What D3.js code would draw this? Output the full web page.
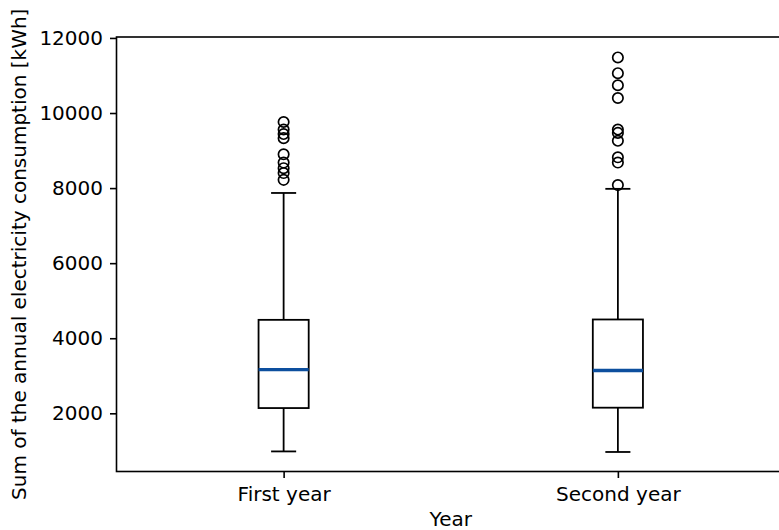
<!DOCTYPE html>
<html>
<head>
<meta charset="utf-8">
<script src="https://cdn.jsdelivr.net/npm/d3@7"></script>
<style>
  body { margin: 0; background: #fff; }
  svg text { font-family: 'DejaVu Sans', sans-serif; }
</style>
</head>
<body>
<svg width="779" height="530"></svg>
<script>
const categories = ['First year', 'Second year'];
const whiskerLow = [985, 970];
const quartile1 = [2140, 2150];
const medians = [3165, 3140];
const quartile3 = [4490, 4500];
const whiskerHigh = [7870, 7980];
const fliers = [
  [9760, 9560, 9440, 9330, 8900, 8680, 8530, 8400, 8220],
  [11480, 11060, 10740, 10400, 9560, 9470, 9260, 8820, 8680, 8080]
];
const yTicks = [2000, 4000, 6000, 8000, 10000, 12000];

const svg = d3.select('svg');
const margin = { left: 116.5, top: 37, right: 785, bottom: 471.5 };
const fontSize = '20px';

const x = d3.scalePoint()
  .domain(categories)
  .range([margin.left, margin.right])
  .padding(0.5);

const y = d3.scaleLinear()
  .domain([450, 12025])
  .range([margin.bottom, margin.top]);

const boxW = x.step() * 0.15;
const capW = boxW / 2;

// ---- Eixos
svg.append('g')
  .attr('transform', `translate(${margin.left},0)`)
  .call(d3.axisLeft(y).tickValues(yTicks).tickSize(6.5).tickPadding(7).tickFormat(d3.format('d')))
  .call(g => g.select('.domain').remove())
  .call(g => g.selectAll('line').attr('stroke-width', 1.6))
  .call(g => g.selectAll('text').style('font-size', fontSize).attr('fill', '#000'));

svg.append('g')
  .attr('transform', `translate(0,${margin.bottom})`)
  .call(d3.axisBottom(x).tickSize(6.5).tickPadding(9))
  .call(g => g.select('.domain').remove())
  .call(g => g.selectAll('line').attr('stroke-width', 1.6))
  .call(g => g.selectAll('text').style('font-size', fontSize).attr('fill', '#000'));

// moldura
svg.append('rect')
  .attr('x', margin.left)
  .attr('y', margin.top)
  .attr('width', margin.right - margin.left)
  .attr('height', margin.bottom - margin.top)
  .attr('fill', 'none')
  .attr('stroke', '#000')
  .attr('stroke-width', 1.6);

// ---- Rotulos
svg.append('text')
  .attr('x', (margin.left + margin.right) / 2)
  .attr('y', 526)
  .attr('text-anchor', 'middle')
  .style('font-size', fontSize)
  .text('Year');

svg.append('text')
  .attr('transform', 'rotate(-90)')
  .attr('x', -(margin.top + margin.bottom) / 2)
  .attr('y', 26)
  .attr('text-anchor', 'middle')
  .style('font-size', fontSize)
  .text('Sum of the annual electricity consumption [kWh]');

// ---- Boxes
const boxes = svg.append('g');
categories.forEach((c, i) => {
  const cx = x(c);
  const g = boxes.append('g').attr('stroke', '#000').attr('stroke-width', 1.8).attr('fill', 'none');
  g.append('line').attr('x1', cx).attr('x2', cx).attr('y1', y(quartile1[i])).attr('y2', y(whiskerLow[i]));
  g.append('line').attr('x1', cx).attr('x2', cx).attr('y1', y(quartile3[i])).attr('y2', y(whiskerHigh[i]));
  g.append('line').attr('x1', cx - capW / 2).attr('x2', cx + capW / 2).attr('y1', y(whiskerLow[i])).attr('y2', y(whiskerLow[i]));
  g.append('line').attr('x1', cx - capW / 2).attr('x2', cx + capW / 2).attr('y1', y(whiskerHigh[i])).attr('y2', y(whiskerHigh[i]));
  g.append('rect')
    .attr('x', cx - boxW / 2)
    .attr('y', y(quartile3[i]))
    .attr('width', boxW)
    .attr('height', y(quartile1[i]) - y(quartile3[i]));
  g.append('line')
    .attr('x1', cx - boxW / 2).attr('x2', cx + boxW / 2)
    .attr('y1', y(medians[i])).attr('y2', y(medians[i]))
    .attr('stroke', '#0d4f9e')
    .attr('stroke-width', 3.4);
  g.selectAll('circle')
    .data(fliers[i])
    .enter()
    .append('circle')
    .attr('cx', cx)
    .attr('cy', d => y(d))
    .attr('r', 5.2)
    .attr('stroke-width', 1.7);
});
</script>
</body>
</html>
